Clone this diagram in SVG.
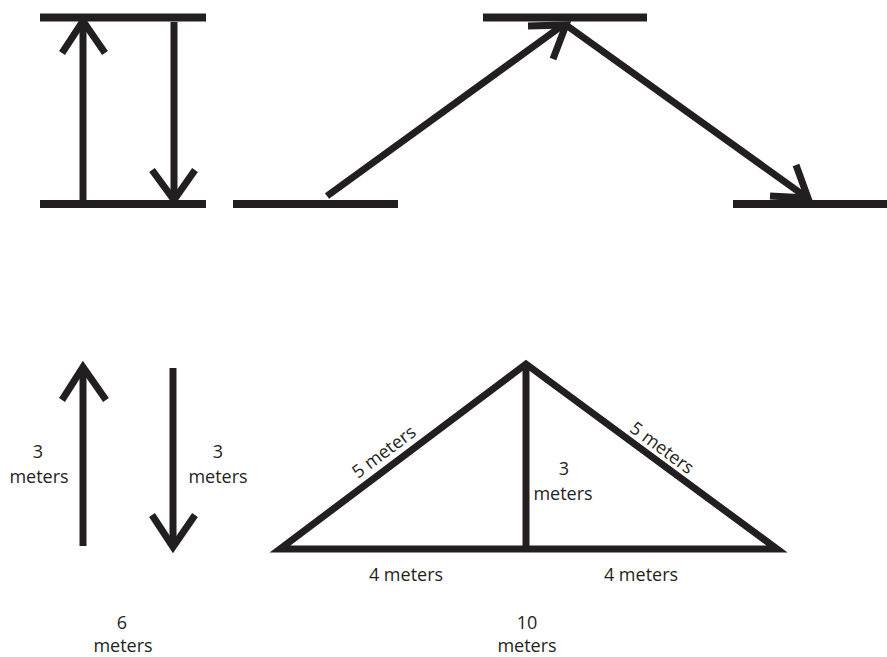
<svg xmlns="http://www.w3.org/2000/svg" width="887" height="657" viewBox="0 0 887 657">
<style>
.ln{stroke:#231f20;stroke-width:7;fill:none;stroke-linecap:butt;stroke-linejoin:miter;stroke-miterlimit:10}
.bar{stroke:#231f20;stroke-width:8;fill:none}
.t{font-family:"Open Sans","Liberation Sans",sans-serif;font-size:18px;fill:#231f20;text-anchor:middle}
</style>
<rect width="887" height="657" fill="#ffffff"/>
<g id="floors">
<line class="bar" x1="40" y1="17.5" x2="206" y2="17.5"/>
<line class="bar" x1="40" y1="204" x2="206" y2="204"/>
<line class="bar" x1="483" y1="17.5" x2="647" y2="17.5"/>
<line class="bar" x1="233" y1="204" x2="398" y2="204"/>
<line class="bar" x1="733" y1="204" x2="887" y2="204"/>
</g>
<g id="connectors">
<line class="ln" x1="83" y1="201" x2="83" y2="22"/>
<polyline class="ln" points="62,53 83,21 105,53"/>
<line class="ln" x1="174" y1="22" x2="174" y2="198"/>
<polyline class="ln" points="152,170 174,200 195,170"/>
<line class="ln" x1="327" y1="196" x2="563" y2="25"/>
<polyline class="ln" points="528,26 566,25 553,59"/>
<line class="ln" x1="566" y1="25" x2="806" y2="197"/>
<polyline class="ln" points="796,165 808,198 770,196"/>
<line class="ln" x1="83" y1="546" x2="83" y2="368"/>
<polyline class="ln" points="62,400 83,367 106,400"/>
<line class="ln" x1="173" y1="368" x2="173" y2="545"/>
<polyline class="ln" points="152,515 173,547 195,515"/>
</g>
<g id="triangle">
<polygon class="ln" points="280,549 526,364 777,549"/>
<line class="ln" x1="526" y1="364" x2="526" y2="549"/>
</g>
<g id="labels">
<text class="t" x="38" y="458">3</text>
<text class="t" x="39" y="483">meters</text>
<text class="t" x="218" y="458">3</text>
<text class="t" x="218" y="483">meters</text>
<text class="t" x="384" y="458" transform="rotate(-37 384 452)">5 meters</text>
<text class="t" x="662" y="454" transform="rotate(36.5 662 448)">5 meters</text>
<text class="t" x="564" y="475">3</text>
<text class="t" x="563" y="500">meters</text>
<text class="t" x="406" y="581">4 meters</text>
<text class="t" x="641" y="581">4 meters</text>
<text class="t" x="122" y="629">6</text>
<text class="t" x="123" y="652">meters</text>
<text class="t" x="527" y="629">10</text>
<text class="t" x="527" y="652">meters</text>
</g>
</svg>
